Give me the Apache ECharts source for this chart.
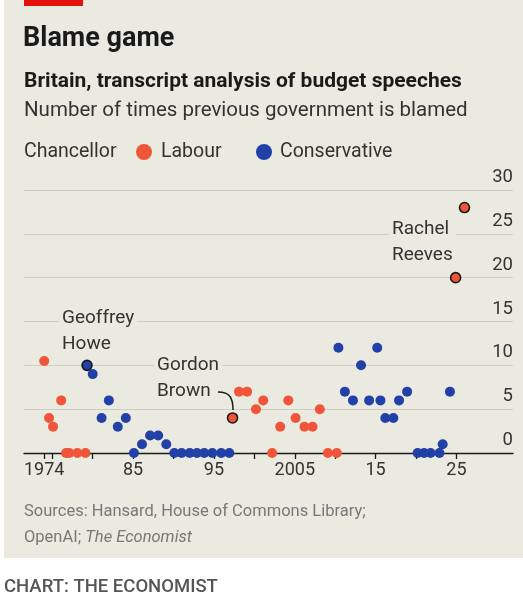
<!DOCTYPE html>
<html><head><meta charset="utf-8">
<script src="https://cdn.jsdelivr.net/npm/echarts@6/dist/echarts.min.js"></script>
<style>html,body{margin:0;padding:0;background:#fff}#c{width:523px;height:600px}</style>
</head><body><div id="c"></div>
<script>
// Labour budgets: [year, times blamed]
const labourYears  = [1974.0,1974.6,1975.1,1976.1,1976.7,1977.1,1978.1,1979.1,1997.3,1998.1,1999.1,2000.2,2001.1,2002.2,2003.2,2004.2,2005.1,2006.2,2007.2,2008.1,2009.1,2010.2,2024.9,2026.0];
const labourValues = [10.5,4,3,6,0,0,0,0,4,7,7,5,6,0,3,6,4,3,3,5,0,0,20,28];
const consYears  = [1979.3,1980.0,1981.1,1982.0,1983.1,1984.1,1985.1,1986.1,1987.1,1988.1,1989.1,1990.1,1991.0,1992.0,1992.9,1993.8,1994.8,1995.9,1996.9,2010.4,2011.2,2012.2,2013.2,2014.2,2015.2,2015.6,2016.2,2017.2,2017.9,2018.9,2020.2,2021.0,2021.8,2022.9,2023.3,2024.2];
const consValues = [10,9,4,6,3,4,0,1,2,2,1,0,0,0,0,0,0,0,0,12,7,6,10,6,12,6,4,4,6,7,0,0,0,0,1,7];
const highlighted = [1979.3,1997.3,2024.9,2026.0];
const tickYears = [1974,1975,1980,1985,1990,1995,2000,2005,2010,2015,2020,2025];
const labelYears = [1974,1985,1995,2005,2015,2025];
const yTicks = [0,5,10,15,20,25,30];

const RED='#f0553a', BLUE='#2140a8', BG='#ebeae1', F='Roboto';
function pts(xs,ys){return xs.map((x,i)=>{
  const o={value:[x,ys[i]]};
  if(highlighted.includes(x)) o.itemStyle={borderColor:'#1a1a1a',borderWidth:1.6};
  return o;});}
const chart=echarts.init(document.getElementById('c'));
const txt=(x,y,t,font,fill,extra)=>Object.assign({type:'text',x:x,y:y,style:Object.assign({text:t,font:font+' '+F,fill:fill||'#333',textVerticalAlign:'top'},extra||{})});
const ann=(x,y,t)=>Object.assign(txt(x,y,t,'19px','#333',{lineHeight:26,backgroundColor:BG,padding:[0,3]}),{z:5});
chart.setOption({
  animation:false,
  backgroundColor:'#fff',
  graphic:[
    {type:'rect',shape:{x:4,y:0,width:519,height:558},style:{fill:BG},z:-10},
    {type:'rect',shape:{x:24,y:0,width:59,height:6},style:{fill:'#e3120b'}},
    txt(23,26,'Blame game','bold 27px','#1a1a1a'),
    txt(24,71,'Britain, transcript analysis of budget speeches','bold 21px','#1a1a1a'),
    txt(24,100,'Number of times previous government is blamed','20.5px','#333'),
    txt(24,142,'Chancellor','19.5px'),
    {type:'circle',shape:{cx:144,cy:152,r:8},style:{fill:RED}},
    txt(161,142,'Labour','19.5px'),
    {type:'circle',shape:{cx:264,cy:152,r:8},style:{fill:BLUE}},
    txt(280,142,'Conservative','19.5px'),
    ann(59,305,'Geoffrey\nHowe'),
    ann(154,352,'Gordon\nBrown'),
    ann(389,216,'Rachel\nReeves'),
    {type:'bezierCurve',z:6,shape:{x1:218,y1:392,x2:233,y2:410,cpx1:230,cpy1:392,cpx2:233,cpy2:398},style:{stroke:'#1a1a1a',lineWidth:1.5,fill:null}},
    txt(24,503,'Sources: Hansard, House of Commons Library;','16.5px','#777'),
    {type:'text',x:24,y:529,style:{textVerticalAlign:'top',rich:{a:{font:'16.5px '+F,fill:'#777'},i:{font:'italic 16.5px '+F,fill:'#777'}},text:'{a|OpenAI; }{i|The Economist}'}},
    txt(4,578,'CHART: THE ECONOMIST','500 18.5px','#555')
  ],
  grid:{left:24,right:10,top:190,height:263},
  xAxis:{type:'value',min:1971.5,max:2032,
    axisLine:{show:true,lineStyle:{color:'#1a1a1a',width:1.3}},
    axisTick:{show:true,customValues:tickYears,length:6,lineStyle:{color:'#1a1a1a',width:1.3}},
    axisLabel:{customValues:labelYears,margin:8,fontSize:18,fontFamily:F,color:'#333',
      formatter:v=>(v===1974||v===2005)?String(v):String(v%100).padStart(2,'0')},
    splitLine:{show:false}},
  yAxis:{type:'value',position:'right',min:0,max:30,interval:5,
    axisLine:{show:false},axisTick:{show:false},
    axisLabel:{inside:true,verticalAlign:'bottom',margin:0,padding:[0,0,3,0],fontSize:18.5,fontFamily:F,color:'#333',
      formatter:v=>yTicks.includes(v)?String(v):''},
    splitLine:{lineStyle:{color:'#cfcdc5',width:1.2}}},
  series:[
    {type:'scatter',name:'Labour',symbolSize:10,itemStyle:{color:RED,opacity:1},data:pts(labourYears,labourValues),z:3},
    {type:'scatter',name:'Conservative',symbolSize:10,itemStyle:{color:BLUE,opacity:1},data:pts(consYears,consValues),z:3}
  ]
});
</script></body></html>
